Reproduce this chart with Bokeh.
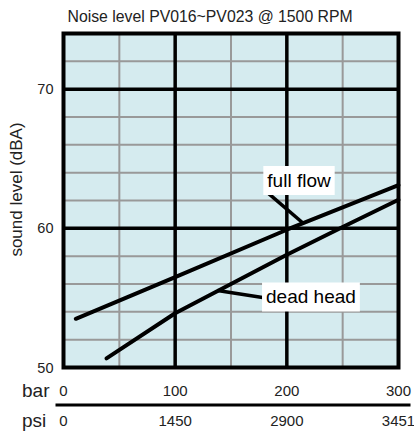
from math import pi
from bokeh.plotting import figure
from bokeh.models import Label, Range1d
from bokeh.core.properties import value
from bokeh.embed import file_html
from bokeh.resources import INLINE

title_text = "Noise level PV016~PV023 @ 1500 RPM"
y_label = "sound level (dBA)"
bar_ticks = [0, 100, 200, 300]
bar_labels = ["0", "100", "200", "300"]
psi_labels = ["0", "1450", "2900", "3451"]
unit_names = ["bar", "psi"]
y_ticks = [50, 60, 70]
y_tick_labels = ["50", "60", "70"]
y_minor = [52, 54, 56, 58, 62, 64, 66, 68, 72]
y_major = [60, 70]
x_minor = [50, 150, 250]
x_major = [100, 200]
x_min, x_max = 0, 300
y_min, y_max = 50, 74

full_flow_bar = [11, 100, 200, 300]
full_flow_dba = [53.5, 56.5, 59.9, 63.1]
dead_head_bar = [38.5, 100, 150, 200, 250, 300]
dead_head_dba = [50.65, 53.9, 56.0, 58.1, 60.1, 62.05]

series_names = ["full flow", "dead head"]
callout_from_bar = [182.7, 178.2]
callout_from_dba = [62.57, 55.03]
callout_to_bar = [214.9, 137.9]
callout_to_dba = [60.35, 55.53]

FONT = "Liberation Sans"
TXT = "#222222"

# layout: the chart box occupies px 63..398 (x) and 33..367 (y) of a 414x435 canvas
W, H = 414, 435
K = 335 / (x_max - x_min)     # px per bar
D = 334 / (y_max - y_min)     # px per dB


def px_to_bar(px):
    return x_min + (px - 63) / K


def py_to_db(py):
    return y_min + (367 - py) / D


p = figure(width=W, height=H,
           x_range=Range1d(px_to_bar(0), px_to_bar(W)),
           y_range=Range1d(py_to_db(H), py_to_db(0)),
           output_backend="svg", toolbar_location=None,
           x_axis_location=None, y_axis_location=None, min_border=0)
p.outline_line_color = None
p.background_fill_color = "white"
p.border_fill_color = "white"
p.grid.visible = False

# plot area
p.quad(left=[x_min], right=[x_max], bottom=[y_min], top=[y_max],
       fill_color="#d5ebef", line_color=None)

# grid lines
GRAY = "#999999"
p.segment(x0=x_minor, y0=[y_min] * len(x_minor), x1=x_minor, y1=[y_max] * len(x_minor),
          line_color=GRAY, line_width=2)
p.segment(x0=[x_min] * len(y_minor), y0=y_minor, x1=[x_max] * len(y_minor), y1=y_minor,
          line_color=GRAY, line_width=2)
p.segment(x0=x_major, y0=[y_min] * len(x_major), x1=x_major, y1=[y_max] * len(x_major),
          line_color="black", line_width=3.5)
p.segment(x0=[x_min] * len(y_major), y0=y_major, x1=[x_max] * len(y_major), y1=y_major,
          line_color="black", line_width=3.5)
p.quad(left=[x_min], right=[x_max], bottom=[y_min], top=[y_max],
       fill_color=None, line_color="black", line_width=4, line_join="miter")

# data
p.line(full_flow_bar, full_flow_dba, line_color="black", line_width=4, line_cap="round")
p.line(dead_head_bar, dead_head_dba, line_color="black", line_width=4, line_cap="round")

# callouts
p.segment(callout_from_bar, callout_from_dba, callout_to_bar, callout_to_dba,
          line_color="black", line_width=3.5)
for name, x, y in zip(series_names, [210.9, 221.6], [63.44, 55.07]):
    p.add_layout(Label(x=x, y=y, text=name, text_align="center", text_baseline="middle",
                       text_font=FONT, text_font_size="19px", text_color="black",
                       background_fill_color="white", padding=4))

# y tick labels
p.text(x=[px_to_bar(53)] * len(y_ticks), y=y_ticks, text=y_tick_labels,
       text_align="right", text_baseline="middle",
       text_font=value(FONT), text_font_size="14.5px", text_color=TXT)

# pressure scales
bar_row, psi_row = py_to_db(390), py_to_db(420)
p.text(x=bar_ticks, y=[bar_row] * len(bar_ticks), text=bar_labels,
       text_align="center", text_baseline="middle",
       text_font=value(FONT), text_font_size="15px", text_color=TXT)
p.text(x=bar_ticks, y=[psi_row] * len(bar_ticks), text=psi_labels,
       text_align="center", text_baseline="middle",
       text_font=value(FONT), text_font_size="15px", text_color=TXT)
p.text(x=[px_to_bar(21.5)] * 2, y=[bar_row, psi_row], text=unit_names,
       text_align="left", text_baseline="middle",
       text_font=value(FONT), text_font_size="19px", text_color=TXT)
p.segment(x0=[px_to_bar(55)], y0=[py_to_db(404.5)], x1=[px_to_bar(410)], y1=[py_to_db(404.5)],
          line_color="black", line_width=3)

# title and axis label
p.add_layout(Label(x=px_to_bar(67), y=py_to_db(16), text=title_text,
                   text_align="left", text_baseline="middle", text_font=FONT,
                   text_font_size="15.8px", text_color=TXT))
p.add_layout(Label(x=px_to_bar(16), y=py_to_db(189), text=y_label, angle=pi / 2,
                   text_align="center", text_baseline="middle", text_font=FONT,
                   text_font_size="17px", text_color=TXT))

open("out.html", "w").write(file_html(p, INLINE))
